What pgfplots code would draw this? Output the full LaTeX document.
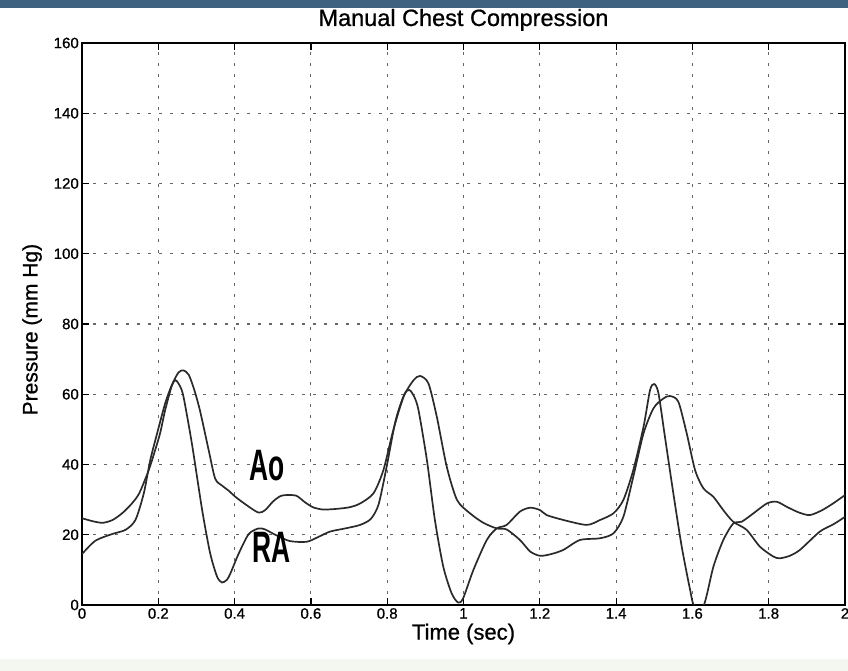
\documentclass[border=0pt]{standalone}
\usepackage{fontspec}
\setmainfont{Liberation Sans}
\newfontfamily\heavy{Liberation Sans}[FakeBold=0.8]
\newfontfamily\labfont{Liberation Sans}[FakeStretch=0.6]
\usepackage{pgfplots}
\pgfplotsset{compat=1.18}
\definecolor{topbar}{HTML}{3F6281}
\definecolor{curve}{HTML}{2A2A2A}
\definecolor{paleband}{HTML}{F3F7F0}
\pgfplotstableread{
t v
0 24.7
0.03 23.8
0.055 23.4
0.08 24.2
0.105 26.1
0.13 28.8
0.15 31.8
0.175 38.4
0.19 43.5
0.205 49
0.218 55.5
0.236 62.6
0.253 66.2
0.266 66.8
0.28 65.5
0.295 61
0.31 55
0.332 44.1
0.349 36
0.367 34
0.385 32.5
0.402 30.8
0.437 28
0.463 26.3
0.48 27
0.501 29.5
0.52 31
0.536 31.3
0.562 31.1
0.585 29.2
0.606 27.8
0.63 27.2
0.66 27.3
0.70 27.8
0.729 28.9
0.764 31.8
0.79 38.4
0.816 49.8
0.843 59.3
0.869 64
0.886 65.2
0.908 63.1
0.930 53.6
0.956 39.4
0.983 29.9
1.017 26.1
1.052 23.4
1.087 21.8
1.113 21.5
1.148 18.5
1.175 15.2
1.201 14
1.23 14.5
1.262 15.7
1.305 18.5
1.358 19
1.393 20.4
1.419 25.1
1.445 36.5
1.472 48.9
1.498 56
1.524 58.8
1.541 59.5
1.563 57.9
1.585 48.9
1.607 38.4
1.629 33.2
1.655 30.8
1.681 27
1.707 23.7
1.742 21.4
1.777 16.6
1.812 13.8
1.829 13.3
1.855 14
1.882 15.7
1.934 20.9
1.97 23
2.0 25.1
}\aodata
\pgfplotstableread{
t v
0 14.5
0.035 18.3
0.079 20.2
0.114 21.4
0.14 24.2
0.162 31.8
0.179 41.3
0.197 48.9
0.218 57.4
0.235 62.5
0.245 64
0.256 62.5
0.266 59.3
0.288 46
0.315 27
0.336 14.7
0.354 8.1
0.367 6.4
0.38 7.2
0.389 9
0.411 14.7
0.437 20.2
0.463 21.8
0.48 21.5
0.51 19.8
0.545 18.2
0.589 18
0.62 19.4
0.65 20.9
0.69 21.8
0.729 22.8
0.757 24.5
0.777 28.5
0.797 38.5
0.822 52.5
0.845 60
0.858 61.2
0.87 59.5
0.882 55.5
0.904 41.3
0.925 24.2
0.947 10.9
0.969 3.3
0.986 0.7
0.999 1.9
1.026 10
1.061 18.5
1.087 21.8
1.113 22.8
1.148 26.6
1.175 27.7
1.201 27
1.218 25.6
1.262 24.2
1.323 22.8
1.358 24.2
1.393 26.1
1.419 29.9
1.445 38.4
1.472 50.8
1.489 61.2
1.5 62.9
1.511 60.3
1.528 47.9
1.55 31.8
1.572 16.6
1.594 4.3
1.604 0
1.63 0
1.655 10.9
1.681 18.5
1.707 23.2
1.729 23.7
1.76 26.1
1.795 28.9
1.821 29.4
1.85 27.8
1.88 26.3
1.908 25.6
1.94 27
1.97 29
2.0 31.3
}\radata
\begin{document}
\begin{tikzpicture}[x=1pt,y=1pt]
\path[use as bounding box] (0,0) rectangle (848,671);
\fill[topbar] (0,663) rectangle (848,671);
\fill[paleband] (0,0) rectangle (848,12);
\begin{axis}[
  at={(82pt,66pt)}, anchor=south west,
  scale only axis, width=763pt, height=562pt,
  xmin=0, xmax=2, ymin=0, ymax=160,
  xtick={0,0.2,0.4,0.6,0.8,1,1.2,1.4,1.6,1.8,2},
  ytick={0,20,40,60,80,100,120,140,160},
  /pgf/number format/assume math mode=true,
  tick label style={font=\heavy\fontsize{15}{15}\selectfont, inner sep=1pt},
  xticklabel style={yshift=-2pt},
  yticklabel style={xshift=-2pt},
  grid=major,
  major grid style={black!60, line width=1.1pt, dash pattern=on 3pt off 8pt},
  tick align=inside,
  major tick length=7pt,
  every tick/.style={black, line width=1.2pt},
  axis line style={line width=1.6pt},
  title={Manual Chest Compression},
  title style={at={(axis description cs:0.5,1.0196)}, anchor=base, inner sep=0pt, font=\heavy\fontsize{23.5}{23.5}\selectfont},
  xlabel={Time (sec)},
  xlabel style={at={(axis description cs:0.5,-0.027)}, anchor=north, font=\heavy\fontsize{22}{22}\selectfont},
  ylabel={Pressure (mm Hg)},
  ylabel style={at={(axis description cs:-0.048,0.49)}, anchor=south, font=\heavy\fontsize{21}{21}\selectfont},
]
\addplot[curve, line width=1.7pt, smooth, tension=0.45] table[x=t,y=v] {\aodata};
\addplot[curve, line width=1.7pt, smooth, tension=0.45] table[x=t,y=v] {\radata};
\node[font=\labfont\bfseries\fontsize{44}{44}\selectfont] at (axis cs:0.486,39.6) {Ao};
\node[font=\labfont\bfseries\fontsize{44}{44}\selectfont] at (axis cs:0.497,16.5) {RA};
\end{axis}
\end{tikzpicture}
\end{document}
